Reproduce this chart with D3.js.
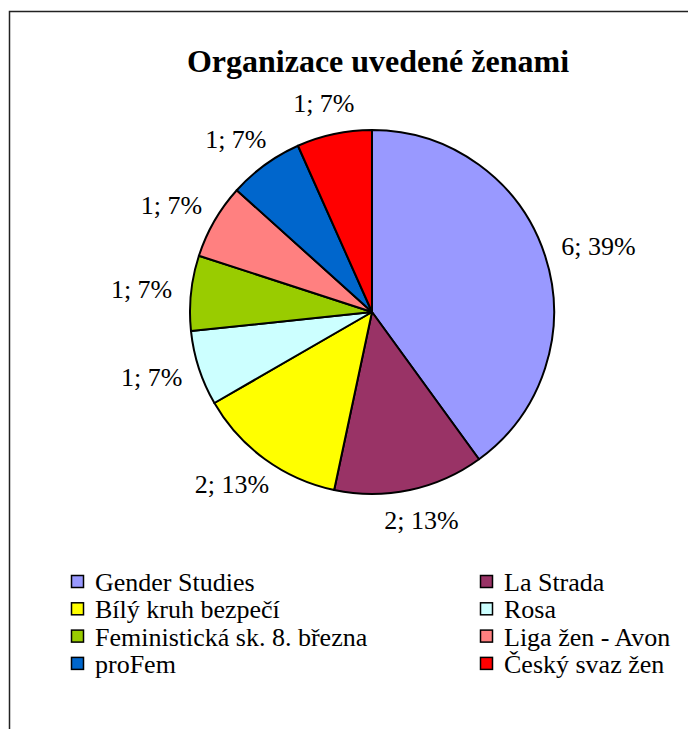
<!DOCTYPE html>
<html>
<head>
<meta charset="utf-8">
<script src="https://cdn.jsdelivr.net/npm/d3@7"></script>
<style>
  html, body { margin: 0; padding: 0; background: #fff; }
  svg { display: block; }
  svg text { font-family: "Liberation Serif", "Times New Roman", Times, Tinos, "DejaVu Serif", "Noto Serif", "FreeSerif", "Nimbus Roman", serif; }
</style>
</head>
<body>
<svg id="chart" width="688" height="729"></svg>
<script>
const title = "Organizace uvedené ženami";
const categories = ["Gender Studies", "La Strada", "Bílý kruh bezpečí", "Rosa",
  "Feministická sk. 8. března", "Liga žen - Avon", "proFem", "Český svaz žen"];
const values = [6, 2, 2, 1, 1, 1, 1, 1];
const percentLabels = ["39%", "13%", "13%", "7%", "7%", "7%", "7%", "7%"];
const colors = ["#9999FF", "#993366", "#FFFF00", "#CCFFFF", "#99CC00", "#FF8080", "#0066CC", "#FF0000"];

const svg = d3.select("#chart");

// frame
svg.append("rect").attr("x", 9.5).attr("y", 11.5).attr("width", 800).attr("height", 800)
  .attr("fill", "none").attr("stroke", "#222").attr("stroke-width", 1.5);

svg.append("text").attr("x", 378).attr("y", 72).attr("text-anchor", "middle")
  .attr("font-weight", "bold").attr("font-size", 32)
  .text(title);

const cx = 372, cy = 312, r = 182;
const g = svg.append("g").attr("transform", `translate(${cx},${cy})`);
const pie = d3.pie().sort(null).value(d => d.v);
const data = categories.map((c, i) => ({ c, v: values[i], p: percentLabels[i], col: colors[i] }));
const arcs = pie(data);
const arc = d3.arc().innerRadius(0).outerRadius(r);

g.selectAll("path.slice").data(arcs).join("path")
  .attr("class", "slice")
  .attr("d", arc)
  .attr("fill", d => d.data.col)
  .attr("stroke", "#000").attr("stroke-width", 2).attr("stroke-linejoin", "round");

// labels
const fs = 26;
const gap = 19;
arcs.forEach(a => {
  const mid = (a.startAngle + a.endAngle) / 2;
  const ux = Math.sin(mid), uy = -Math.cos(mid);
  const t = g.append("text").attr("font-size", fs)
    .attr("text-anchor", "middle").attr("dominant-baseline", "central")
    .text(`${a.data.v}; ${a.data.p}`);
  const bb = t.node().getBBox();
  const w = bb.width, h = fs * 0.9;
  const x = (r + gap) * ux + (w / 2) * ux;
  const y = (r + gap) * uy + (h / 2) * uy;
  t.attr("x", x).attr("y", y);
});

// legend
const legend = svg.append("g");
const colX = [71, 480];
const rowY0 = 575, rowStep = 27.3;
data.forEach((d, i) => {
  const col = i % 2, row = Math.floor(i / 2);
  const x = colX[col], y = rowY0 + row * rowStep;
  legend.append("rect").attr("x", x + 0.5).attr("y", y + 0.5).attr("width", 12).attr("height", 12)
    .attr("fill", d.col).attr("stroke", "#000").attr("stroke-width", 1.5);
  legend.append("text").attr("x", x + 24).attr("y", y + 16)
    .attr("font-size", fs).text(d.c);
});
</script>
</body>
</html>
